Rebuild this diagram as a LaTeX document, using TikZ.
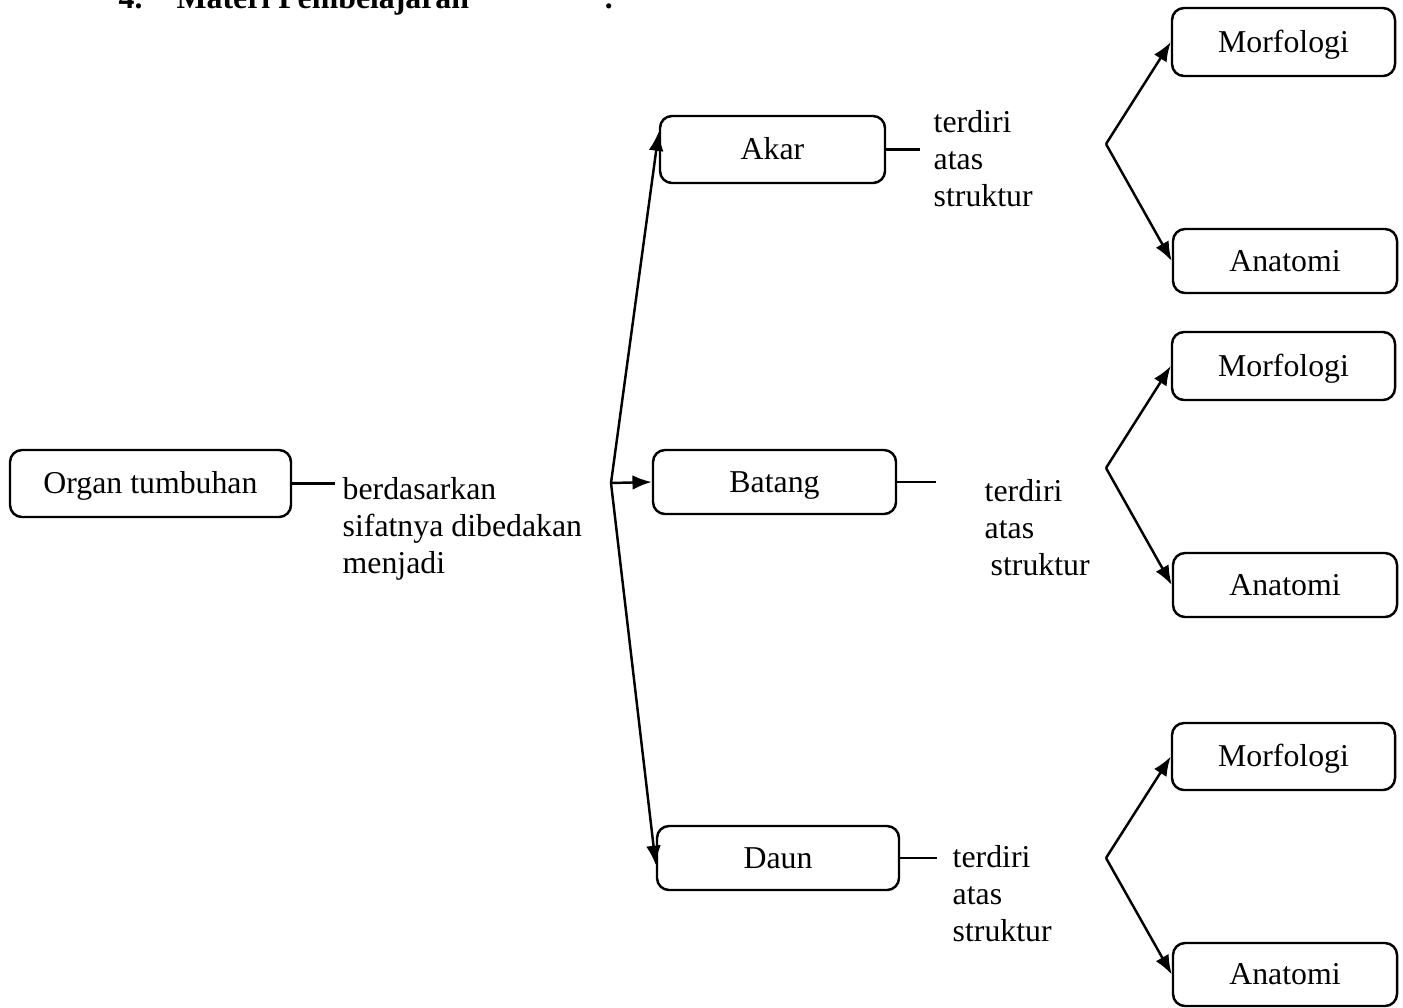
\documentclass[tikz,border=0pt]{standalone}
\usepackage{fontspec}
\setmainfont{Liberation Serif}
\usetikzlibrary{arrows.meta}

\begin{document}
\begin{tikzpicture}[
  font=\fontsize{9.05}{10.4}\selectfont,
  box/.style={draw, line width=0.7pt, rounded corners=0.12cm, inner sep=0pt, text height=6pt, text depth=0.3pt},
  txt/.style={align=left, inner sep=0pt, anchor=base west},
  arr/.style={line width=0.7pt, -{Latex[length=5.5pt,width=4.2pt]}},
  lin/.style={line width=0.7pt}
]
\useasboundingbox (0,0) rectangle (14.03,-10.07);

% judul, terpotong di tepi atas
\node[txt, font=\fontsize{9.05}{10.4}\selectfont\bfseries] (v0) at (1.18,-0.085) {4.};
\node[txt, font=\fontsize{9.05}{10.4}\selectfont\bfseries] (v00) at (1.76,-0.085) {Materi Pembelajaran};
\node[txt, font=\fontsize{9.05}{10.4}\selectfont\bfseries] (v000) at (6.03,-0.085) {:};

\node[box, minimum width=2.81cm, minimum height=0.67cm] (v1) at (1.505,-4.835) {Organ tumbuhan};
\coordinate (v2) at ([xshift=0.43cm]v1.east);
% base = baris terakhir
\node[txt] (v3) at (3.42,-5.73) {berdasarkan\\sifatnya dibedakan\\menjadi};
\coordinate (v4) at (6.11,-4.83);

\node[box, minimum width=2.25cm, minimum height=0.67cm] (v5) at (7.725,-1.495) {Akar};
\node[box, minimum width=2.43cm, minimum height=0.64cm] (v6) at (7.745,-4.82) {Batang};
\node[box, minimum width=2.42cm, minimum height=0.64cm] (v7) at (7.78,-8.58) {Daun};

\coordinate (v8) at ([xshift=0.34cm]v5.east);
\node[txt] (v9) at (9.33,-2.06) {terdiri\\atas\\struktur};
\coordinate (v10) at ([xshift=0.39cm]v6.east);
\node[txt] (v11) at (9.84,-5.75) {terdiri\\atas\\\hspace*{0.06cm}struktur};
\coordinate (v12) at ([xshift=0.37cm]v7.east);
\node[txt] (v13) at (9.52,-9.41) {terdiri\\atas\\struktur};

\node[box, minimum width=2.23cm, minimum height=0.68cm] (v14) at (12.835,-0.42) {Morfologi};
\node[box, minimum width=2.24cm, minimum height=0.64cm] (v15) at (12.85,-2.61) {Anatomi};
\node[box, minimum width=2.23cm, minimum height=0.68cm] (v16) at (12.835,-3.66) {Morfologi};
\node[box, minimum width=2.24cm, minimum height=0.64cm] (v17) at (12.85,-5.85) {Anatomi};
\node[box, minimum width=2.23cm, minimum height=0.67cm] (v18) at (12.835,-7.565) {Morfologi};
\node[box, minimum width=2.24cm, minimum height=0.63cm] (v19) at (12.85,-9.745) {Anatomi};
\coordinate (v20) at (11.06,-1.44);
\coordinate (v21) at (11.06,-4.68);
\coordinate (v22) at (11.06,-8.58);

\draw[lin] (v1.east) -- (v2);
\draw[arr] (v4) -- ([yshift=0.18cm]v5.west);
\draw[arr] (v4) -- (v6.west);
\draw[arr] (v4) -- ([yshift=-0.07cm]v7.west);
\draw[lin] (v5.east) -- (v8);
\draw[lin] (v6.east) -- (v10);
\draw[lin] (v7.east) -- (v12);
\draw[arr] (v20) -- (v14.west);
\draw[arr] (v20) -- (v15.west);
\draw[arr] (v21) -- (v16.west);
\draw[arr] (v21) -- (v17.west);
\draw[arr] (v22) -- (v18.west);
\draw[arr] (v22) -- (v19.west);
\end{tikzpicture}
\end{document}
